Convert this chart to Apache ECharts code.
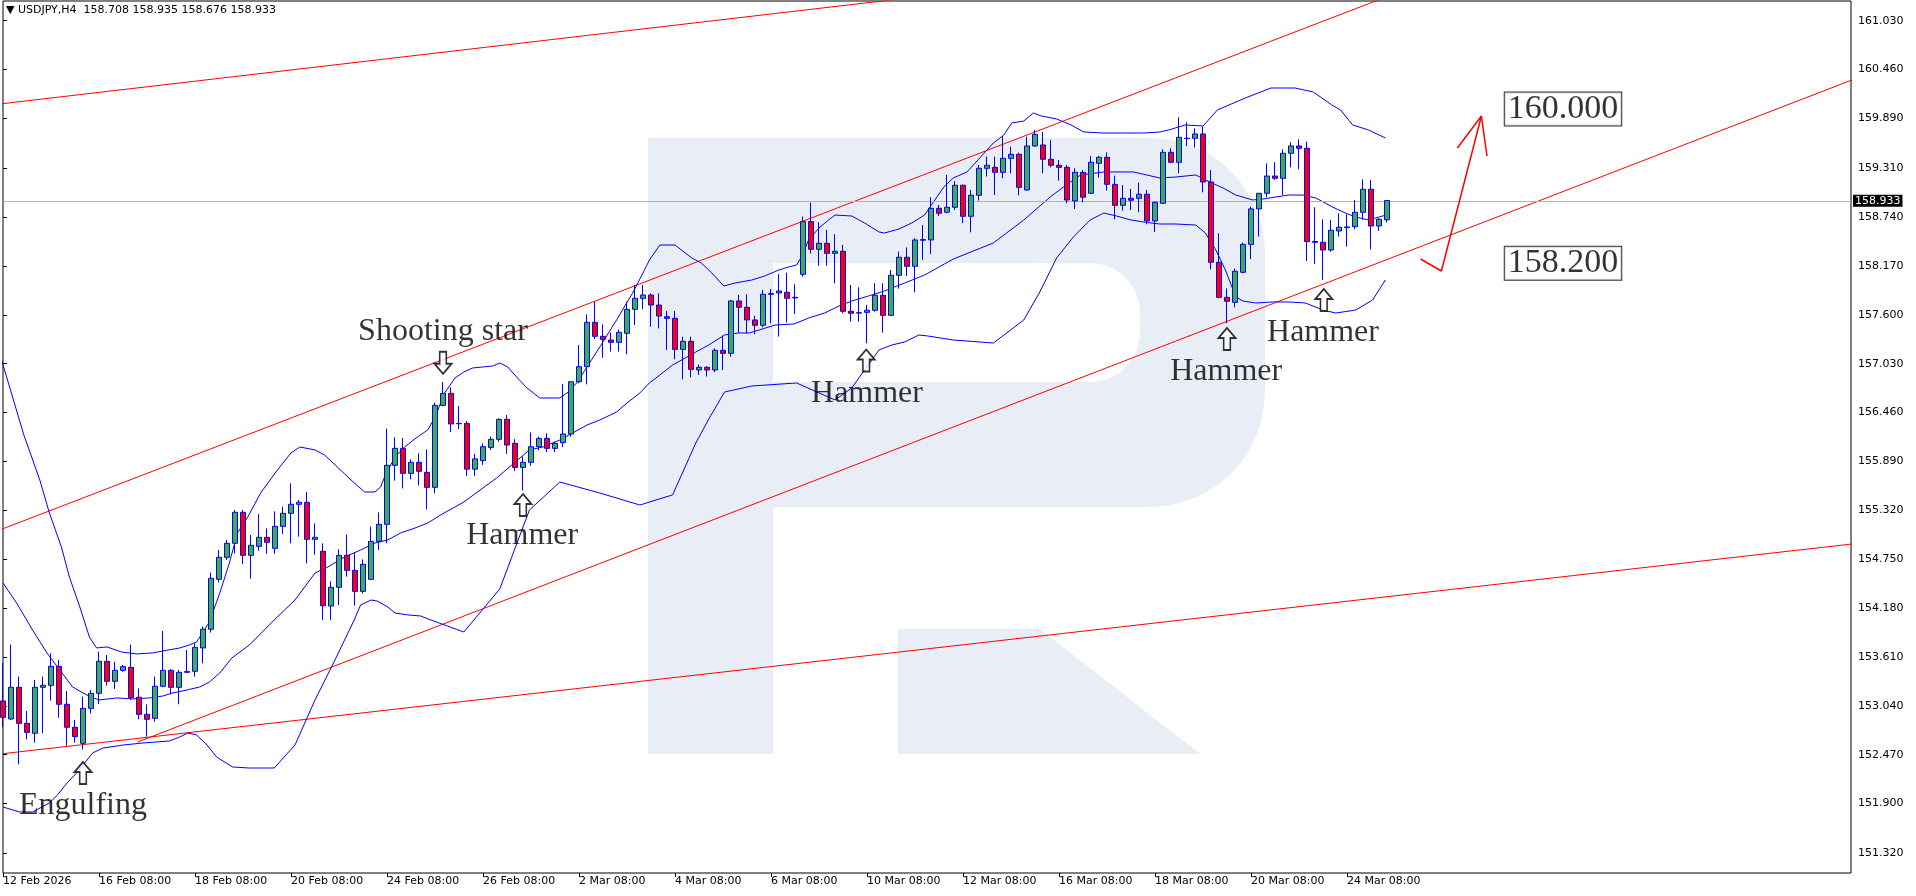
<!DOCTYPE html>
<html><head><meta charset="utf-8">
<script src="https://cdn.jsdelivr.net/npm/echarts@6.0.0/dist/echarts.min.js"></script>
<style>html,body{margin:0;padding:0;background:#fff;}#main{width:1916px;height:896px;}</style>
</head><body><div id="main"></div>
<script>
// ---------- DATA ----------
const opens = [153.097,152.887,153.256,152.836,152.720,153.256,153.279,153.501,153.058,152.790,
152.603,153.011,153.186,153.559,153.326,153.454,153.489,153.140,152.941,152.895,
153.268,153.454,153.256,153.431,153.443,153.715,153.933,154.516,154.772,154.935,
155.297,154.795,154.900,155.005,154.877,155.133,155.285,155.390,155.413,154.982,
154.842,154.204,154.422,154.795,154.620,154.375,154.515,154.958,155.157,155.845,
156.043,155.751,155.880,155.763,155.588,156.544,156.684,156.334,156.334,155.800,
155.900,156.054,156.148,156.381,156.101,155.820,155.880,156.062,156.159,156.043,
156.109,156.210,156.820,156.995,157.512,157.349,157.306,157.279,157.384,157.664,
157.792,157.831,157.714,157.578,157.559,157.197,157.291,156.957,156.988,156.957,
157.186,157.151,157.762,157.688,157.540,157.478,157.839,157.855,157.863,157.804,
158.073,158.687,158.364,158.434,158.317,158.341,157.641,157.620,157.629,157.653,
157.828,157.594,158.061,158.271,158.166,158.470,158.473,158.842,158.796,158.854,
159.111,158.749,158.994,159.309,159.320,159.262,159.425,159.472,159.056,159.569,
159.581,159.414,159.344,159.320,158.928,159.262,159.017,159.367,159.437,159.122,
158.877,158.959,158.959,159.006,158.695,158.901,159.495,159.379,159.659,159.659,
159.709,159.149,158.213,157.804,157.746,158.096,158.422,158.835,159.017,159.219,
159.192,159.484,159.569,159.542,158.454,158.446,158.356,158.578,158.617,158.628,
158.796,159.064,158.636,158.708];
const closes = [152.906,153.256,152.836,152.731,153.256,153.279,153.501,153.058,152.790,152.681,
153.011,153.186,153.559,153.326,153.454,153.497,153.136,152.941,152.883,153.268,
153.454,153.256,153.431,153.439,153.723,153.933,154.527,154.772,154.935,155.297,
154.795,154.912,155.005,154.947,155.133,155.285,155.390,155.413,154.982,155.005,
154.208,154.422,154.795,154.620,154.375,154.690,154.958,155.157,155.845,156.043,
155.751,155.880,155.775,155.588,156.544,156.684,156.327,156.330,155.800,155.920,
156.062,156.148,156.381,156.082,155.820,155.880,156.062,156.159,156.043,156.101,
156.210,156.820,156.995,157.512,157.349,157.314,157.279,157.396,157.664,157.792,
157.831,157.714,157.586,157.559,157.197,157.291,156.964,156.988,156.957,157.186,
157.151,157.762,157.688,157.540,157.478,157.839,157.847,157.878,157.793,157.797,
158.687,158.364,158.434,158.317,158.341,157.641,157.618,157.625,157.653,157.828,
157.594,158.061,158.271,158.166,158.473,158.477,158.842,158.784,158.854,159.111,
158.749,158.994,159.309,159.344,159.262,159.425,159.472,159.087,159.569,159.705,
159.414,159.344,159.320,158.939,159.262,158.971,159.379,159.437,159.122,158.877,
158.959,158.936,159.006,158.695,158.912,159.495,159.379,159.670,159.655,159.709,
159.149,158.213,157.804,157.758,158.108,158.422,158.835,159.017,159.219,159.192,
159.484,159.569,159.542,158.454,158.446,158.356,158.586,158.621,158.625,158.796,
159.064,158.636,158.714,158.933];
const lows = [152.790,152.875,152.358,152.650,152.611,152.720,153.101,152.902,152.576,152.611,
152.533,152.953,153.062,153.276,153.237,153.439,153.108,152.883,152.681,152.856,
153.256,153.175,153.058,153.427,153.381,153.536,153.894,154.480,154.741,154.818,
154.694,154.523,154.850,154.815,154.815,155.044,154.935,155.013,154.702,154.803,
154.041,154.041,154.216,154.546,154.208,154.352,154.508,154.857,154.935,155.666,
155.576,155.681,155.611,155.332,155.518,156.533,156.233,156.268,155.720,155.720,
155.850,156.023,156.120,155.980,155.780,155.550,155.840,156.020,156.000,156.000,
156.060,156.179,156.801,156.789,157.318,157.100,157.170,157.170,157.139,157.481,
157.664,157.462,157.442,157.189,157.081,156.847,156.871,156.900,156.880,156.930,
156.957,157.112,157.392,157.385,157.373,157.454,157.501,157.346,157.509,157.610,
158.045,158.317,158.174,158.174,157.968,157.618,157.521,157.521,157.268,157.637,
157.392,157.587,157.905,158.053,157.863,158.240,158.306,158.753,158.784,158.823,
158.667,158.562,158.932,159.212,158.998,159.192,159.250,158.994,159.048,159.561,
159.250,159.320,159.165,158.901,158.835,158.912,159.010,159.200,159.048,158.714,
158.815,158.823,158.796,158.656,158.566,158.893,159.367,159.250,159.569,159.550,
159.029,158.131,157.793,157.501,157.688,158.084,158.251,158.512,158.971,159.173,
158.998,159.320,159.297,158.228,158.193,158.007,158.337,158.512,158.395,158.597,
158.706,158.364,158.578,158.676];
const highs = [153.544,153.754,153.381,152.980,153.342,153.381,153.653,153.575,153.213,152.875,
153.147,153.225,153.672,153.633,153.555,153.517,153.754,153.244,153.058,153.381,
153.913,153.466,153.458,153.692,153.769,153.964,154.593,154.858,154.974,155.324,
155.324,155.032,155.277,155.110,155.308,155.363,155.635,155.440,155.534,155.168,
154.935,154.492,154.865,155.036,154.826,154.748,155.129,155.297,156.272,156.171,
156.163,155.915,155.985,156.031,156.575,156.816,156.754,156.537,156.360,155.980,
156.100,156.179,156.393,156.431,156.150,155.950,156.229,156.179,156.218,156.120,
156.793,156.820,157.248,157.605,157.753,157.489,157.392,157.430,157.753,157.948,
157.948,157.850,157.850,157.644,157.644,157.345,157.345,157.020,157.000,157.210,
157.357,157.773,157.832,157.839,157.587,157.890,157.902,158.076,158.092,157.956,
158.745,158.908,158.679,158.590,158.539,158.415,157.948,157.921,157.715,157.968,
157.968,158.123,158.337,158.387,158.492,158.648,158.971,158.881,159.231,159.161,
159.120,159.056,159.348,159.445,159.445,159.686,159.561,159.491,159.678,159.756,
159.732,159.639,159.406,159.348,159.309,159.289,159.453,159.453,159.495,159.223,
159.114,159.068,159.142,159.056,158.920,159.530,159.542,159.904,159.845,159.775,
159.795,159.289,158.551,157.909,158.139,158.442,158.862,159.017,159.367,159.379,
159.530,159.612,159.647,159.620,158.854,158.714,158.706,158.784,158.772,158.939,
159.180,159.173,158.725,158.935];

// Bollinger bands: bar position and price
const bbUpperX = [-0.4,2.6,4.6,5.8,7.3,8.3,9.6,10.8,11.7,13.0,14.8,16.7,18.7,20.0,22.1,23.3,24.2,25.0,25.8,27.1,28.3,29.3,30.6,32.2,34.3,36.0,37.1,39.0,40.2,41.8,43.5,45.2,46.5,47.2,47.8,49.0,50.2,51.8,53.1,54.0,55.2,56.5,57.6,58.7,61.2,62.1,63.1,64.2,65.5,67.1,69.6,70.5,71.7,73.0,74.6,76.7,78.7,80.0,80.8,82.1,84.0,86.1,87.3,88.6,90.1,91.5,93.6,95.2,97.0,98.2,99.2,99.8,100.7,102.0,103.2,104.0,106.1,107.7,109.5,110.2,112.0,113.6,115.2,117.6,118.8,120.5,122.2,123.8,125.1,126.1,127.6,128.8,129.8,131.7,133.5,135.1,137.6,140.1,142.6,144.6,145.7,147.8,150.0,150.9,151.8,155.3,158.5,161.5,163.8,166.1,167.2,168.7,170.7,172.8];
const bbUpperY = [157.143,156.200,155.674,155.289,154.892,154.543,154.193,153.843,153.715,153.727,153.668,153.645,153.657,153.680,153.715,153.750,153.785,153.901,154.018,154.356,154.706,155.056,155.242,155.522,155.790,155.989,156.059,156.024,155.965,155.825,155.674,155.534,155.534,155.592,155.732,155.942,156.059,156.175,156.257,156.408,156.688,156.863,156.933,156.980,157.003,157.038,156.991,156.875,156.747,156.630,156.630,156.688,156.805,156.992,157.225,157.540,157.854,158.088,158.239,158.414,158.414,158.263,158.204,158.088,157.936,157.971,158.006,158.053,158.123,158.158,158.181,158.274,158.473,158.613,158.706,158.764,158.752,158.671,158.566,158.554,158.601,158.671,158.764,159.091,159.196,159.266,159.440,159.604,159.697,159.837,159.860,159.954,159.919,159.884,159.814,159.732,159.720,159.720,159.720,159.732,159.755,159.814,159.802,159.895,159.989,160.129,160.245,160.245,160.198,160.047,159.989,159.814,159.755,159.662];
const bbMidX = [0,1.7,3.7,5.5,7.1,8.7,10.0,11.2,12.1,14.2,16.2,18.3,20.0,21.2,23.0,24.6,25.8,27.1,28.6,30.8,33.9,36.5,39.0,40.6,42.7,44.7,46.5,48.1,49.7,51.5,53.1,54.7,56.5,57.6,61.7,65.8,67.5,69.6,71.2,73.0,74.6,76.7,78.0,79.6,80.8,82.1,83.7,85.5,86.6,88.2,90.2,91.9,93.3,94.5,96.5,98.9,100.7,102.7,104.5,106.1,108.2,110.2,112.7,115.2,118.8,123.8,127.6,130.9,132.9,134.7,137.6,141.3,144.6,146.6,149.1,150.3,152.5,154.1,156.2,157.5,159.1,160.7,162.5,164.1,166.2,167.8,169.1,170.7,172.9];
const bbMidY = [154.473,154.239,153.924,153.656,153.458,153.260,153.190,153.132,153.109,153.132,153.121,153.132,153.155,153.190,153.225,153.260,153.318,153.423,153.598,153.750,154.041,154.274,154.589,154.659,154.776,154.857,154.939,154.974,155.056,155.114,155.172,155.266,155.359,155.417,155.697,156.024,156.059,156.140,156.222,156.315,156.373,156.467,156.572,156.688,156.805,156.898,157.015,157.108,157.166,157.248,157.365,157.388,157.388,157.423,157.481,157.493,157.563,157.621,157.703,157.761,157.820,157.878,157.971,158.064,158.251,158.438,158.706,158.974,159.114,159.231,159.266,159.266,159.196,159.207,159.231,159.172,159.079,158.997,158.939,158.951,158.974,158.997,158.997,158.962,158.857,158.787,158.741,158.706,158.764];
const bbLowX = [0,2.1,3.7,5.8,6.8,8.0,9.2,10.5,11.2,12.5,15.0,17.5,20.8,22.1,23.1,24.2,25.5,26.7,28.7,30.8,33.9,36.5,39.0,41.5,43.9,44.7,46.0,46.8,48.1,49.0,50.6,52.2,53.5,57.6,62.1,65.8,69.6,74.6,79.6,83.7,86.6,88.3,90.2,93.6,99.2,104.0,106.1,107.7,109.5,111.1,112.7,114.5,115.6,118.8,123.8,127.6,129.6,131.7,133.8,135.9,137.6,139.2,141.0,142.6,144.6,146.6,149.1,150.3,151.6,152.8,154.1,155.0,156.6,158.7,160.7,162.8,165.0,166.6,169.1,171.2,172.8];
const bbLowY = [151.860,151.802,151.802,151.907,152.000,152.140,152.257,152.408,152.490,152.548,152.583,152.607,152.630,152.677,152.723,152.700,152.583,152.443,152.327,152.315,152.315,152.583,153.108,153.575,154.041,154.216,154.274,154.262,154.193,154.123,154.100,154.088,154.041,153.901,154.403,155.324,155.650,155.522,155.382,155.500,156.105,156.397,156.700,156.770,156.805,156.607,156.747,156.957,157.190,157.248,157.283,157.365,157.353,157.306,157.271,157.540,157.866,158.263,158.508,158.706,158.787,158.752,158.706,158.682,158.659,158.659,158.647,158.554,158.356,158.123,157.808,157.761,157.738,157.750,157.750,157.738,157.656,157.621,157.656,157.773,158.006];

// Trend lines: [barStart, priceStart, barEnd, priceEnd]
const trendTop    = [-0.4, 160.059, 231.1, 162.579];
const trendUpper  = [-0.4, 155.091, 231.1, 163.395];
const trendLower  = [16.84, 152.618, 231.1, 160.338];
const trendBottom = [-0.4, 152.478, 231.1, 154.927];

// Price axis tick labels
const yTicks = [151.32,151.90,152.47,153.04,153.61,154.18,154.75,155.32,155.89,156.46,157.03,157.60,158.17,158.74,159.31,159.89,160.46,161.03];
const lastPrice = 158.933;

// Annotations
const noteTexts = ['Engulfing','Shooting star','Hammer','Hammer','Hammer','Hammer'];
const noteX = [10.0, 55.0, 64.9, 108.0, 152.9, 165.0];
const noteY = [151.88, 157.40, 155.02, 156.68, 156.94, 157.39];
const arrowX = [10.0, 55.0, 65.0, 107.9, 153.0, 165.1];
const arrowY = [152.257, 157.04, 155.382, 157.067, 157.318, 157.773];
const arrowDir = ['up','down','up','up','up','up'];
const targetLabels = ['160.000','158.200'];
const targetX = [195, 195];
const targetY = [160.0, 158.2];
const forecastX = [177.2, 179.8, 184.8];
const forecastY = [158.251, 158.111, 159.918];
const headX = [181.8, 184.8, 185.5];
const headY = [159.545, 159.918, 159.452];

// ---------- CATEGORIES (4-hour bars, weekdays) ----------
const TOTAL = 232;
const months = ['Jan','Feb','Mar','Apr','May','Jun','Jul','Aug','Sep','Oct','Nov','Dec'];
const categories = [];
(function(){
  let t = Date.UTC(2026,1,12,8);
  while (categories.length < TOTAL) {
    const d = new Date(t); const wd = d.getUTCDay();
    if (wd !== 0 && wd !== 6) categories.push(d.getUTCDate()+' '+months[d.getUTCMonth()]+' '+String(d.getUTCHours()).padStart(2,'0')+':00');
    t += 4*3600e3;
  }
})();
const NBARS = opens.length;
const candleData = opens.map((o,i)=>[o, closes[i], lows[i], highs[i]]);
const zip = (xs,ys)=>xs.map((x,i)=>[x, ys[i]]);
const seg = a => [[a[0],a[1]],[a[2],a[3]]];

// watermark outline helper (decoration only)
function roundedD(x0, y0, x1, y1, r){
  const pts = [[x0,y0],[x1-r,y0]];
  for (let k=1;k<=12;k++){ const a=-Math.PI/2 + k*(Math.PI/2)/12; pts.push([x1-r+r*Math.cos(a), y0+r+r*Math.sin(a)]); }
  pts.push([x1, y1-r]);
  for (let k=1;k<=12;k++){ const a=k*(Math.PI/2)/12; pts.push([x1-r+r*Math.cos(a), y1-r+r*Math.sin(a)]); }
  pts.push([x0,y1]);
  return pts;
}

const YMAX = 161.2597, YMIN = 151.0906;
const axisFont = 'DejaVu Sans';
const upArrow = 'path://M9,0 L18,10 L12.5,10 L12.5,22 L5.5,22 L5.5,10 L0,10 Z';
const wm = '#e9edf5';
const clear = 'rgba(0,0,0,0)';

const chart = echarts.init(document.getElementById('main'));
const option = {
  animation: false,
  backgroundColor: '#ffffff',
  grid: [{left: 3, top: 1, width: 1848, height: 872, show: true, borderColor: '#000', borderWidth: 1, backgroundColor: 'transparent'}],
  graphic: [
    {type:'rect', z:-10, shape:{x:648,y:138,width:125,height:616}, style:{fill:wm}},
    {type:'polygon', z:-10, shape:{points: roundedD(773,138,1265,507,115)}, style:{fill:wm}},
    {type:'polygon', z:-9, shape:{points: roundedD(773,263,1140,382,50)}, style:{fill:'#ffffff'}},
    {type:'polygon', z:-10, shape:{points:[[898,629],[1040,629],[1200,754],[898,754]]}, style:{fill:wm}},
    {type:'text', z:50, x:6, y:5, style:{text:'\u25BC USDJPY,H4  158.708 158.935 158.676 158.933', font:'11px "DejaVu Sans"', fill:'#000'}}
  ],
  xAxis: [
    {type:'category', data: categories, boundaryGap:false, gridIndex:0,
     axisLine:{show:false},
     axisTick:{show:true, length:4, lineStyle:{color:'#000'}, interval:(i)=> i%12===0 && i<NBARS},
     axisLabel:{show:true, interval:(i)=> i%12===0 && i<NBARS, align:'left', margin:3, color:'#000', fontFamily:axisFont, fontSize:11,
       formatter:(v,i)=> i===0 ? '12 Feb 2026' : v},
     splitLine:{show:false}},
    {type:'value', min:0, max:TOTAL-1, gridIndex:0, show:false}
  ],
  yAxis: [
    {type:'value', position:'right', min:YMIN, max:YMAX, gridIndex:0,
     axisLine:{show:false}, splitLine:{show:false},
     axisTick:{show:true, length:4, lineStyle:{color:'#000'}, customValues: yTicks},
     axisLabel:{show:true, customValues: yTicks, margin:7, color:'#000', fontFamily:axisFont, fontSize:11, formatter:(v)=>v.toFixed(3)}}
  ],
  series: [
    {type:'candlestick', xAxisIndex:0, yAxisIndex:0, data:candleData, barWidth:5, z:5,
     itemStyle:{color:'#3cb043', color0:'#ff0000', borderColor:'#0000ff', borderColor0:'#0000ff', borderWidth:1},
     markLine:{silent:true, symbol:['none','none'], animation:false,
       lineStyle:{color:'#b4b4b4', width:1, type:'solid'},
       label:{show:true, position:'end', distance:2, formatter:()=>lastPrice.toFixed(3), backgroundColor:'#000', color:'#fff', padding:[1,2,0,2], fontFamily:axisFont, fontSize:11},
       data:[{yAxis:lastPrice}]}},
    {type:'line', xAxisIndex:1, yAxisIndex:0, data:zip(bbUpperX,bbUpperY), symbol:'none', lineStyle:{color:'#0000ff', width:1}, z:4},
    {type:'line', xAxisIndex:1, yAxisIndex:0, data:zip(bbMidX,bbMidY), symbol:'none', lineStyle:{color:'#0000ff', width:1}, z:4},
    {type:'line', xAxisIndex:1, yAxisIndex:0, data:zip(bbLowX,bbLowY), symbol:'none', lineStyle:{color:'#0000ff', width:1}, z:4},
    {type:'line', xAxisIndex:1, yAxisIndex:0, data:seg(trendTop), symbol:'none', lineStyle:{color:'#ff0000', width:1}, z:3},
    {type:'line', xAxisIndex:1, yAxisIndex:0, data:seg(trendUpper), symbol:'none', lineStyle:{color:'#ff0000', width:1}, z:3},
    {type:'line', xAxisIndex:1, yAxisIndex:0, data:seg(trendLower), symbol:'none', lineStyle:{color:'#ff0000', width:1}, z:3},
    {type:'line', xAxisIndex:1, yAxisIndex:0, data:seg(trendBottom), symbol:'none', lineStyle:{color:'#ff0000', width:1}, z:3},
    {type:'line', xAxisIndex:1, yAxisIndex:0, data:zip(forecastX,forecastY), symbol:'none', lineStyle:{color:'#ff0000', width:1.5}, z:6},
    {type:'line', xAxisIndex:1, yAxisIndex:0, data:zip(headX,headY), symbol:'none', lineStyle:{color:'#ff0000', width:1.5}, z:6},
    {type:'scatter', xAxisIndex:1, yAxisIndex:0, z:7,
     data: arrowX.map((x,i)=>({value:[x, arrowY[i]], symbolRotate: arrowDir[i]==='down'?180:0})),
     symbol: upArrow, symbolSize:[17,22],
     itemStyle:{color:'#ffffff', borderColor:'#000', borderWidth:1.8}},
    {type:'scatter', xAxisIndex:1, yAxisIndex:0, z:8, symbolSize:2, itemStyle:{color:clear},
     data: noteX.map((x,i)=>({value:[x, noteY[i]], name: noteTexts[i]})),
     label:{show:true, position:'inside', formatter:(p)=>p.name, color:'#000', fontFamily:'Liberation Serif', fontSize:32}},
    {type:'scatter', xAxisIndex:1, yAxisIndex:0, z:8, symbolSize:2, itemStyle:{color:clear},
     data: targetX.map((x,i)=>({value:[x, targetY[i]], name: targetLabels[i]})),
     label:{show:true, position:'inside', formatter:(p)=>p.name, color:'#000', fontFamily:'Liberation Serif', fontSize:34, lineHeight:32,
       backgroundColor:'#fff', borderColor:'#000', borderWidth:1, padding:[1,3,0,3]}}
  ]
};
chart.setOption(option);
</script>
</body></html>
